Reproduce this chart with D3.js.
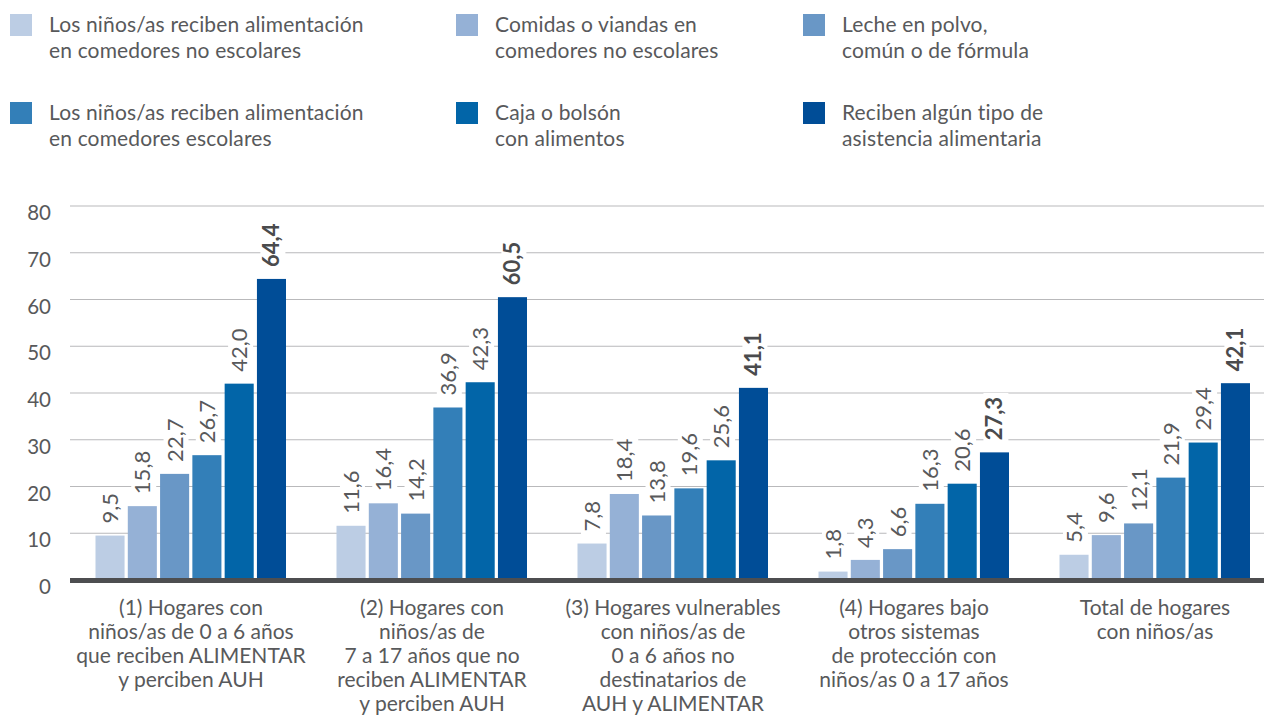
<!DOCTYPE html>
<html>
<head>
<meta charset="utf-8">
<script src="https://cdn.jsdelivr.net/npm/d3@7"></script>
<style>
  body { margin: 0; background: #fff; }
  svg { display: block; font-family: Lato, "Open Sans", sans-serif; }
</style>
</head>
<body>
<svg id="chart" width="1264" height="718"></svg>
<script>
// categories (x axis), one multi-line label each
const categories = [
  ["(1) Hogares con", "niños/as de 0 a 6 años", "que reciben ALIMENTAR", "y perciben AUH"],
  ["(2) Hogares con", "niños/as de", "7 a 17 años que no", "reciben ALIMENTAR", "y perciben AUH"],
  ["(3) Hogares vulnerables", "con niños/as de", "0 a 6 años no", "destinatarios de", "AUH y ALIMENTAR"],
  ["(4) Hogares bajo", "otros sistemas", "de protección con", "niños/as 0 a 17 años"],
  ["Total de hogares", "con niños/as"]
];

const seriesNames = [
  ["Los niños/as reciben alimentación", "en comedores no escolares"],
  ["Comidas o viandas en", "comedores no escolares"],
  ["Leche en polvo,", "común o de fórmula"],
  ["Los niños/as reciben alimentación", "en comedores escolares"],
  ["Caja o bolsón", "con alimentos"],
  ["Reciben algún tipo de", "asistencia alimentaria"]
];

const comedoresNoEsc = [9.5, 11.6, 7.8, 1.8, 5.4];
const viandas        = [15.8, 16.4, 18.4, 4.3, 9.6];
const leche          = [22.7, 14.2, 13.8, 6.6, 12.1];
const comedoresEsc   = [26.7, 36.9, 19.6, 16.3, 21.9];
const cajaBolson     = [42.0, 42.3, 25.6, 20.6, 29.4];
const algunTipo      = [64.4, 60.5, 41.1, 27.3, 42.1];

const yTicks = [0, 10, 20, 30, 40, 50, 60, 70, 80];

const colors = ["#bccde4", "#95b1d6", "#6997c6", "#337fb8", "#0265a8", "#004d97"];

const values = [comedoresNoEsc, viandas, leche, comedoresEsc, cajaBolson, algunTipo];
const fmt = v => v.toFixed(1).replace(".", ",");

const svg = d3.select("#chart");
const textColor = "#58595b";

// ---- legend ----
const legend = svg.append("g");
const legX = [10, 456, 803], legY = [14, 102];
seriesNames.forEach((lines, i) => {
  const g = legend.append("g")
    .attr("transform", "translate(" + legX[i % 3] + "," + legY[Math.floor(i / 3)] + ")");
  g.append("rect").attr("width", 22).attr("height", 22).attr("fill", colors[i]);
  const t = g.append("text")
    .attr("y", 18)
    .attr("fill", textColor)
    .style("font-size", "21px")
    .style("letter-spacing", "0.15px");
  lines.forEach((l, j) => {
    t.append("tspan").attr("x", 39).attr("dy", j ? 26 : 0).text(l);
  });
});

// ---- scales ----
const y = d3.scaleLinear().domain([0, 80]).range([580, 206]);

const x0 = d3.scaleBand()
  .domain(d3.range(categories.length))
  .range([70, 1275]);

const x1 = d3.scaleBand()
  .domain(d3.range(values.length))
  .range([25.5, 216])
  .paddingInner(0.1);

// gridlines + y labels
const yAxis = svg.append("g");
yAxis.selectAll("line")
  .data(yTicks.filter(d => d > 0))
  .enter().append("line")
  .attr("x1", 70).attr("x2", 1264)
  .attr("y1", d => y(d)).attr("y2", d => y(d))
  .attr("stroke", "#b9b9bb").attr("stroke-width", 1.2);

yAxis.selectAll("text")
  .data(yTicks)
  .enter().append("text")
  .attr("x", 51)
  .attr("y", d => y(d) + 14)
  .attr("text-anchor", "end")
  .attr("fill", textColor)
  .style("font-size", "20.5px")
  .text(d => d);

// ---- bars and labels ----
const cellData = [];
categories.forEach((c, gi) => values.forEach((s, si) => cellData.push({ gi, si, v: s[gi] })));
const cx = d => x0(d.gi) + x1(d.si);

const knockLayer = svg.append("g");
const barLayer = svg.append("g");
const labelLayer = svg.append("g");

barLayer.selectAll("rect")
  .data(cellData)
  .enter().append("rect")
  .attr("x", cx)
  .attr("width", x1.bandwidth())
  .attr("y", d => y(d.v))
  .attr("height", d => y(0) - y(d.v))
  .attr("fill", d => colors[d.si]);

const labels = labelLayer.selectAll("text")
  .data(cellData)
  .enter().append("text")
  .attr("transform", d => "translate(" + (cx(d) + x1.bandwidth() / 2) + "," + (y(d.v) - 12) + ") rotate(-90)")
  .attr("dy", "0.36em")
  .attr("fill", d => d.si === 5 ? "#4a4b4d" : textColor)
  .style("font-size", "22px")
  .style("font-weight", d => d.si === 5 ? "bold" : "normal")
  .text(d => fmt(d.v));

// white boxes behind the labels, so the gridlines break there
labels.each(function(d) {
  const b = this.getBBox();
  knockLayer.append("rect")
    .attr("transform", this.getAttribute("transform"))
    .attr("x", b.x - 4).attr("y", b.y + 3)
    .attr("width", b.width + 8).attr("height", b.height - 2)
    .attr("fill", "#fff");
});

// baseline
svg.append("rect")
  .attr("x", 70).attr("width", 1194)
  .attr("y", y(0) - 2).attr("height", 5)
  .attr("fill", "#4d4e50");

// category labels
svg.append("g").selectAll("text")
  .data(categories)
  .enter().append("text")
  .attr("y", 615)
  .attr("text-anchor", "middle")
  .attr("fill", textColor)
  .style("font-size", "21px")
  .each(function(lines, i) {
    const t = d3.select(this);
    const mid = x0(i) + x0.bandwidth() / 2 + 0.5;
    lines.forEach((l, j) => {
      t.append("tspan").attr("x", mid).attr("dy", j ? 24 : 0).text(l);
    });
  });
</script>
</body>
</html>
